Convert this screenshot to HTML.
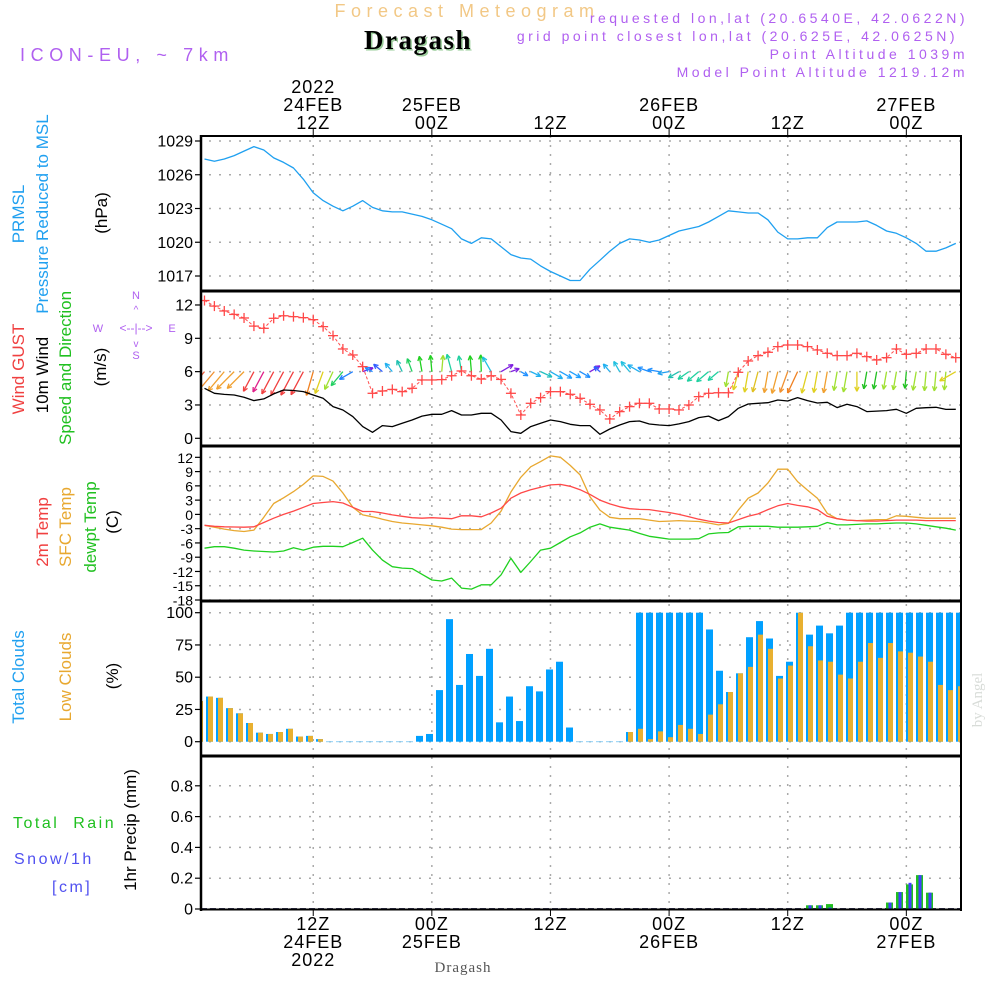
<!DOCTYPE html>
<html><head><meta charset="utf-8"><title>Forecast Meteogram - Dragash</title>
<style>
html,body{margin:0;padding:0;background:#fff;}
svg{display:block;font-family:"Liberation Sans",sans-serif;}
</style></head>
<body>
<svg id="chart" width="1000" height="1000" viewBox="0 0 1000 1000" xmlns="http://www.w3.org/2000/svg">
  <rect x="0" y="0" width="1000" height="1000" fill="#fff"/>
  <text x="467" y="17" font-size="18" fill="#f2c886" text-anchor="middle" letter-spacing="5.5">Forecast Meteogram</text>
  <text x="418" y="49" font-size="27" font-weight="bold" font-family="Liberation Serif, serif" fill="#9c9" text-anchor="middle" letter-spacing="1.5" dx="1.5" dy="1.5">Dragash</text>
  <text x="418" y="49" font-size="27" font-weight="bold" font-family="Liberation Serif, serif" fill="#000" text-anchor="middle" letter-spacing="1.5">Dragash</text>
  <text x="20" y="61" font-size="18" fill="#b060f0" letter-spacing="5.6">ICON-EU, ~ 7km</text>
  <g font-size="14" fill="#b060f0" text-anchor="end" letter-spacing="3.5">
    <text x="968" y="23">requested lon,lat (20.6540E, 42.0622N)</text>
    <text x="958" y="41">grid point closest lon,lat (20.625E, 42.0625N)</text>
    <text x="968" y="59">Point Altitude 1039m</text>
    <text x="968" y="77">Model Point Altitude 1219.12m</text>
  </g>
  <g id="grid"></g>
  <g id="marks"></g>
  <g id="frame"></g>
  <g id="labels"></g>

  <g font-size="17">
    <text transform="translate(24,214) rotate(-90)" text-anchor="middle" fill="#20a0f0">PRMSL</text>
    <text transform="translate(48,214) rotate(-90)" text-anchor="middle" fill="#20a0f0">Pressure Reduced to MSL</text>
    <text transform="translate(107,213) rotate(-90)" text-anchor="middle" fill="#000">(hPa)</text>
    <text transform="translate(24,369) rotate(-90)" text-anchor="middle" fill="#f04040">Wind GUST</text>
    <text transform="translate(48,375) rotate(-90)" text-anchor="middle" fill="#000">10m Wind</text>
    <text transform="translate(71,368) rotate(-90)" text-anchor="middle" fill="#20c020">Speed and Direction</text>
    <text transform="translate(106,367) rotate(-90)" text-anchor="middle" fill="#000">(m/s)</text>
    <text transform="translate(48,532) rotate(-90)" text-anchor="middle" fill="#f04040">2m Temp</text>
    <text transform="translate(71,527) rotate(-90)" text-anchor="middle" fill="#e8a830">SFC Temp</text>
    <text transform="translate(96,527) rotate(-90)" text-anchor="middle" fill="#20c020">dewpt Temp</text>
    <text transform="translate(118,522) rotate(-90)" text-anchor="middle" fill="#000">(C)</text>
    <text transform="translate(24,677) rotate(-90)" text-anchor="middle" fill="#20a0f0">Total Clouds</text>
    <text transform="translate(71,677) rotate(-90)" text-anchor="middle" fill="#e8a830">Low Clouds</text>
    <text transform="translate(118,676) rotate(-90)" text-anchor="middle" fill="#000">(%)</text>
    <text transform="translate(136,830) rotate(-90)" text-anchor="middle" fill="#000">1hr Precip (mm)</text>
  </g>
  <g font-size="16" letter-spacing="2.5">
    <text x="13" y="828" fill="#20c020" xml:space="preserve">Total  Rain</text>
    <text x="14" y="864" fill="#5050f0">Snow/1h</text>
    <text x="52" y="892" fill="#5050f0">[cm]</text>
  </g>
  <g fill="#b060f0" font-size="11" text-anchor="middle">
    <text x="136" y="299">N</text>
    <text x="98" y="332">W</text>
    <text x="172" y="332">E</text>
    <text x="136" y="359">S</text>
    <text x="136" y="332" font-size="12">&lt;--|--&gt;</text>
    <text x="136" y="313" font-size="10">^</text>
    <text x="136" y="347" font-size="10">v</text>
  </g>
  <text x="463" y="972" font-size="15" font-family="Liberation Serif, serif" fill="#555" text-anchor="middle" letter-spacing="1">Dragash</text>
  <text transform="translate(982,700) rotate(-90)" font-size="15" font-family="Liberation Serif, serif" fill="#d8dcd8" text-anchor="middle">by Angel</text>
</svg>
<script>
// ---------- data ----------
const timeLabelsTop = [["2022","24FEB","12Z"],["","25FEB","00Z"],["","","12Z"],["","26FEB","00Z"],["","","12Z"],["","27FEB","00Z"]];
const timeLabelsBottom = [["12Z","24FEB","2022"],["00Z","25FEB",""],["12Z","",""],["00Z","26FEB",""],["12Z","",""],["00Z","27FEB",""]];
const timeTickHours = [11,23,35,47,59,71];
const pressureTicks = [1029,1026,1023,1020,1017];
const windTicks = [12,9,6,3,0];
const tempTicks = [12,9,6,3,0,-3,-6,-9,-12,-15,-18];
const cloudTicks = [100,75,50,25,0];
const precipTicks = [0.8,0.6,0.4,0.2,0];

const pressure = [1027.4,1027.2,1027.4,1027.7,1028.1,1028.5,1028.2,1027.5,1027.1,1026.6,1025.6,1024.4,1023.7,1023.2,1022.8,1023.2,1023.7,1023.1,1022.8,1022.7,1022.7,1022.5,1022.3,1022.0,1021.6,1021.2,1020.3,1019.9,1020.4,1020.3,1019.6,1018.9,1018.6,1018.5,1017.9,1017.4,1017.0,1016.6,1016.6,1017.6,1018.4,1019.2,1019.9,1020.3,1020.2,1020.0,1020.2,1020.6,1021.0,1021.2,1021.4,1021.8,1022.3,1022.8,1022.7,1022.6,1022.6,1022.0,1020.9,1020.3,1020.3,1020.4,1020.4,1021.3,1021.8,1021.8,1021.8,1021.9,1021.5,1021.0,1020.8,1020.4,1019.9,1019.2,1019.2,1019.5,1019.9];
const windGust = [12.4,11.9,11.46,11.15,10.83,10.1,9.9,10.8,11.03,10.95,10.86,10.68,10.05,9.24,8.04,7.5,6.45,4.05,4.26,4.4,4.2,4.5,5.25,5.25,5.28,5.63,6.06,5.63,5.33,5.63,5.3,4.05,2.1,3.15,3.66,4.2,4.2,3.96,3.6,3.06,2.55,1.74,2.4,2.85,3.15,3.15,2.64,2.64,2.55,3.0,3.75,4.05,4.1,4.1,5.94,6.96,7.44,7.74,8.25,8.4,8.4,8.25,7.95,7.65,7.44,7.44,7.65,7.35,7.05,7.26,8.04,7.56,7.65,8.04,8.04,7.56,7.26];
const windSpeed = [4.5,4.05,3.95,3.9,3.7,3.39,3.55,4.0,4.35,4.3,4.2,3.9,3.6,2.85,2.55,1.95,1.05,0.54,1.14,1.05,1.35,1.65,2.0,2.16,2.16,2.49,2.1,2.1,2.25,2.25,1.65,0.6,0.45,1.05,1.35,1.65,1.5,1.26,1.14,1.14,0.36,0.84,1.2,1.5,1.56,1.29,1.2,1.14,1.3,1.5,1.86,2.0,1.59,1.95,2.7,3.09,3.15,3.2,3.45,3.36,3.66,3.39,3.18,3.24,2.76,3.06,2.85,2.4,2.45,2.49,2.61,2.25,2.7,2.75,2.79,2.6,2.61];
const windFrom = [40,40,40,45,45,28,28,28,28,28,28,16,20,25,40,60,250,120,130,140,155,160,170,175,185,165,170,175,178,150,240,250,300,295,295,300,300,300,300,240,130,140,150,140,120,110,100,80,60,55,50,50,50,10,15,10,15,10,15,20,25,15,10,10,10,10,0,10,10,10,10,5,10,5,5,5,60];
const windColor = ["#f06040","#f09030","#f0a030","#f0a030","#f0a030","#f04040","#e0208a","#f04040","#f04040","#f04040","#f04040","#f08020","#e0d020","#a0e030","#20d060","#2080ff","#8020e0","#2090ff","#3060ff","#20b0f0","#20c0b0","#20d060","#20d020","#20d020","#a0e030","#20d0a0","#20d0a0","#20d020","#20d020","#20c0e0","#8020e0","#8020e0","#2090ff","#20b0f0","#20c0c0","#20b0f0","#20a0ff","#20a0ff","#2090ff","#8020e0","#3060ff","#20b0f0","#20c0e0","#20c0e0","#20b0f0","#2090ff","#2090ff","#20a0f0","#20c0b0","#20d0a0","#20d0a0","#20d0a0","#20d0a0","#a0e030","#e0d020","#e0d020","#e0c020","#f0a030","#f0a030","#f09030","#f08020","#e0d020","#e0d020","#f0a030","#a0e030","#a0e030","#e0d020","#20c020","#20c020","#a0e030","#a0e030","#20c020","#a0e030","#a0e030","#a0e030","#a0e030","#e0d020"];
const temp2m = [-2.3,-2.5,-2.6,-2.65,-2.7,-2.6,-1.7,-0.8,0.0,0.7,1.5,2.3,2.5,2.7,2.4,1.5,0.6,0.6,0.3,-0.1,-0.4,-0.7,-0.8,-0.7,-0.8,-0.9,-0.3,-0.3,-0.5,0.3,1.3,3.4,4.5,5.2,5.7,6.2,6.3,5.9,5.2,4.2,3.0,2.2,1.6,1.2,1.05,1.0,0.7,0.4,0.0,-0.5,-1.0,-1.4,-1.7,-1.8,-1.1,-0.4,0.1,1.0,1.8,2.3,1.9,1.6,1.0,-0.4,-0.9,-1.2,-1.3,-1.4,-1.4,-1.3,-1.2,-1.2,-1.2,-1.3,-1.3,-1.3,-1.3];
const tempSfc = [-2.3,-2.7,-3.1,-3.4,-3.6,-3.3,-0.6,2.3,3.5,4.8,6.3,8.1,8.0,7.0,4.5,1.5,-0.1,-0.5,-1.0,-1.5,-1.8,-2.0,-2.2,-2.4,-2.7,-3.1,-3.2,-3.2,-3.2,-1.8,0.7,4.7,7.8,10.0,11.1,12.3,12.0,10.3,8.3,3.7,0.9,-0.6,-0.9,-0.9,-0.9,-1.2,-1.5,-1.4,-1.3,-1.4,-1.5,-1.8,-2.2,-1.9,0.9,3.4,4.5,6.6,9.5,9.5,6.9,5.1,3.4,0.2,-0.9,-1.2,-1.3,-1.2,-1.1,-1.1,-0.3,-0.4,-0.6,-0.8,-0.8,-0.8,-0.8];
const tempDew = [-7.1,-6.8,-6.8,-7.1,-7.5,-7.7,-7.8,-7.9,-7.7,-7.0,-7.5,-6.9,-6.7,-6.7,-6.8,-5.9,-5.0,-7.5,-9.6,-11.0,-11.3,-11.4,-12.6,-13.8,-14.0,-13.4,-15.5,-15.7,-14.8,-14.8,-12.7,-9.2,-12.2,-9.9,-7.5,-7.1,-5.9,-4.7,-3.9,-2.7,-2.0,-2.7,-3.0,-3.3,-4.0,-4.6,-4.9,-5.2,-5.2,-5.2,-5.1,-4.1,-3.9,-3.8,-2.6,-2.5,-2.5,-2.5,-2.7,-2.7,-2.7,-2.6,-2.5,-1.7,-2.2,-2.2,-2.1,-2.0,-2.0,-1.9,-1.8,-1.8,-2.0,-2.3,-2.6,-2.9,-3.3];
const cloudTotal = [31.5,35,34,26,22,14.5,7,6,7.5,10,4,4.5,2,0,0,0,0,0,0,0,0,0,4.5,6,40,95,44,68,51,72,15,35,16,43,39,56,62,11,0,0,0,0,0,7.5,100,100,100,100,100,100,100,87,55,38.5,53,81,93.5,80,51,62,100,83,90,84,90,100,100,100,100,100,100,100,100,100,100,100,100];
const cloudLow = [31.5,35,34,26,22,14.5,7,6,7.5,10,4,4.5,2,0,0,0,0,0,0,0,0,0,0,0,0,0,0,0,0,0,0,0,0,0,0,0,0,0,0,0,0,0,0,7.5,10,2,8,3.5,13,10,6,21,29,38.5,53,58,83,72,49,59,100,74,63,62,52,49,62,76.5,65,76.5,70,69,66,62,44,40,43];
const precipTotal = [0,0,0,0,0,0,0,0,0,0,0,0,0,0,0,0,0,0,0,0,0,0,0,0,0,0,0,0,0,0,0,0,0,0,0,0,0,0,0,0,0,0,0,0,0,0,0,0,0,0,0,0,0,0,0,0,0,0,0,0,0,0.024,0.024,0.032,0.003,0,0,0,0,0.042,0.11,0.16,0.22,0.106,0,0,0];
const precipSnow = [0,0,0,0,0,0,0,0,0,0,0,0,0,0,0,0,0,0,0,0,0,0,0,0,0,0,0,0,0,0,0,0,0,0,0,0,0,0,0,0,0,0,0,0,0,0,0,0,0,0,0,0,0,0,0,0,0,0,0,0,0,0.024,0.024,0.01,0.003,0,0,0,0,0.042,0.11,0.17,0.22,0.106,0,0,0];

// ---------- scales ----------
const X0 = 201, X1 = 961;
function xHour(h){ return 204.5 + 9.885*h; }
function xBar(i){ return 196 + 10*i; }
function yP(p){ return 141 + (1029-p)*11.25; }
function yW(v){ return 438.3 - v*11.11; }
function yT(t){ return 514.4 - t*4.756; }
function yC(c){ return 741.7 - c*1.29; }
function yR(r){ return 909 - r*154; }
const panels = [[136,290],[291,445],[446,600],[601,755],[756,909]];

const NS = "http://www.w3.org/2000/svg";
function mk(tag, attrs, parent){
  const e = document.createElementNS(NS, tag);
  for (const k in attrs) e.setAttribute(k, attrs[k]);
  parent.appendChild(e);
  return e;
}
const grid = document.getElementById('grid');
const marks = document.getElementById('marks');
const frame = document.getElementById('frame');
const labels = document.getElementById('labels');

const defs = mk('defs', {}, document.getElementById('chart'));
const cp = mk('clipPath', {id:'plotclip'}, defs);
mk('rect', {x:X0, y:136, width:X1-X0, height:774}, cp);
marks.setAttribute('clip-path','url(#plotclip)');

timeTickHours.forEach((h, k) => {
  const x = xHour(h);
  const gl = mk('line', {x1:x, x2:x, y1:136, y2:909, stroke:'#aaa', 'stroke-width':1.5, 'stroke-dasharray':'2,7'}, grid);
  
  
  mk('line', {x1:x, x2:x, y1:129, y2:136, stroke:'#000', 'stroke-width':1}, frame);
  mk('line', {x1:x, x2:x, y1:909, y2:916, stroke:'#000', 'stroke-width':1}, frame);
  timeLabelsTop[k].forEach((s, j) => {
    if (!s) return;
    const t = mk('text', {x:x, y:93 + j*18, 'font-size':18, 'text-anchor':'middle', fill:'#000', 'letter-spacing':1}, labels);
    t.textContent = s;
    
    
  });
  timeLabelsBottom[k].forEach((s, j) => {
    if (!s) return;
    const t = mk('text', {x:x, y:930 + j*18, 'font-size':18, 'text-anchor':'middle', fill:'#000', 'letter-spacing':1}, labels);
    t.textContent = s;
    
    
  });
});

function yAxis(ticks, yf, fmt, fs, name){
  ticks.forEach(v => {
    const y = yf(v);
    const gl = mk('line', {x1:X0+8, x2:X1, y1:y, y2:y, stroke:'#aaa', 'stroke-width':1.5, 'stroke-dasharray':'2,8'}, grid);
    
    
    mk('line', {x1:X0-6, x2:X0, y1:y, y2:y, stroke:'#000', 'stroke-width':1.2}, frame);
    const t = mk('text', {x:X0-8, y:y+5.5, 'font-size':fs, 'text-anchor':'end', fill:'#000'}, labels);
    t.textContent = fmt(v);
    
    
  });
}
yAxis(pressureTicks, yP, v=>String(v), 16, 'pressure');
yAxis(windTicks, yW, v=>String(v), 16, 'wind');
yAxis(tempTicks, yT, v=>String(v), 14, 'temp');
yAxis(cloudTicks, yC, v=>String(v), 16, 'cloud');
yAxis(precipTicks, yR, v=>v===0?'0':v.toFixed(1), 16, 'precip');

cloudTotal.forEach((c, i) => {
  const x = xBar(i);
  if (c > 0) {
    const b = mk('rect', {x:x, y:yC(c), width:7, height:yC(0)-yC(c), fill:'#00a0ff'}, marks);
    
    
  } else {
    mk('line', {x1:x, x2:x+7, y1:yC(0), y2:yC(0), stroke:'#8ccff5', 'stroke-width':1}, marks);
  }
  const l = cloudLow[i];
  if (l > 0) {
    const b2 = mk('rect', {x:x+2, y:yC(l), width:5, height:yC(0)-yC(l), fill:'#e8b030'}, marks);
    
    
  }
});

mk('line', {x1:X0, x2:X1, y1:yR(0)-0.5, y2:yR(0)-0.5, stroke:'#446', 'stroke-width':1, 'stroke-dasharray':'6,3'}, marks);
precipTotal.forEach((r, i) => {
  const x = xBar(i);
  if (r > 0) {
    const b = mk('rect', {x:x, y:yR(r), width:7, height:yR(0)-yR(r), fill:'#20c020'}, marks);
    
    
  }
  const s = precipSnow[i];
  if (s > 0) {
    const b2 = mk('rect', {x:x+2.5, y:yR(s), width:3, height:yR(0)-yR(s), fill:'#4040ff'}, marks);
    
    
  }
});

function line(arr, xf, yf, color, w, name, dash){
  const pts = arr.map((v, i) => xf(i).toFixed(1) + ',' + yf(v).toFixed(1)).join(' ');
  const a = {points:pts, fill:'none', stroke:color, 'stroke-width':w, 'stroke-linejoin':'round'};
  if (dash) a['stroke-dasharray'] = dash;
  const p = mk('polyline', a, marks);
  
  
  return p;
}
line(pressure, xHour, yP, '#1fa0f0', 1.3, 'pressure-line');

windFrom.forEach((d, h) => {
  const to = (d + 180) * Math.PI / 180;
  const L = 6 + 4.8 * windSpeed[h];
  const x1 = xHour(h), y1 = yW(6);
  const dx = Math.sin(to), dy = -Math.cos(to);
  const x2 = x1 + L*dx, y2 = y1 + L*dy;
  const g = mk('g', {stroke:windColor[h], 'stroke-width':1.3, fill:'none'}, marks);
  
  
  mk('line', {x1:x1, y1:y1, x2:x2, y2:y2}, g);
  const hl = 5, ang = 0.45;
  const bx = -dx, by = -dy;
  [ang, -ang].forEach(a => {
    const rx = bx*Math.cos(a) - by*Math.sin(a), ry = bx*Math.sin(a) + by*Math.cos(a);
    mk('line', {x1:x2, y1:y2, x2:x2+hl*rx, y2:y2+hl*ry}, g);
  });
});

line(windSpeed, xHour, yW, '#000', 1.3, 'wind-speed-line');
line(windGust, xHour, yW, '#ff5050', 1, 'wind-gust-line', '3,2');
windGust.forEach((v, h) => {
  const x = xHour(h), y = yW(v);
  const g = mk('g', {stroke:'#ff4848', 'stroke-width':1.3}, marks);
  
  
  mk('line', {x1:x-5, x2:x+5, y1:y, y2:y}, g);
  mk('line', {x1:x, x2:x, y1:y-5, y2:y+5}, g);
});

line(tempDew, xHour, yT, '#20d020', 1.3, 'dewpoint-line');
line(tempSfc, xHour, yT, '#e8a830', 1.3, 'sfc-temp-line');
line(temp2m, xHour, yT, '#ff4848', 1.3, 'temp-2m-line');

panels.forEach((p, k) => {
  const t = mk('line', {x1:X0-1, x2:X1+1, y1:p[0], y2:p[0], stroke:'#000', 'stroke-width':k===0?2:3}, frame);
  
  
});
mk('line', {x1:X0-1, x2:X1+1, y1:909.5, y2:909.5, stroke:'#000', 'stroke-width':2}, frame);
mk('line', {x1:X0, x2:X0, y1:135, y2:911, stroke:'#000', 'stroke-width':2.5}, frame);
mk('line', {x1:X1, x2:X1, y1:135, y2:911, stroke:'#000', 'stroke-width':2}, frame);
</script>
</body></html>
